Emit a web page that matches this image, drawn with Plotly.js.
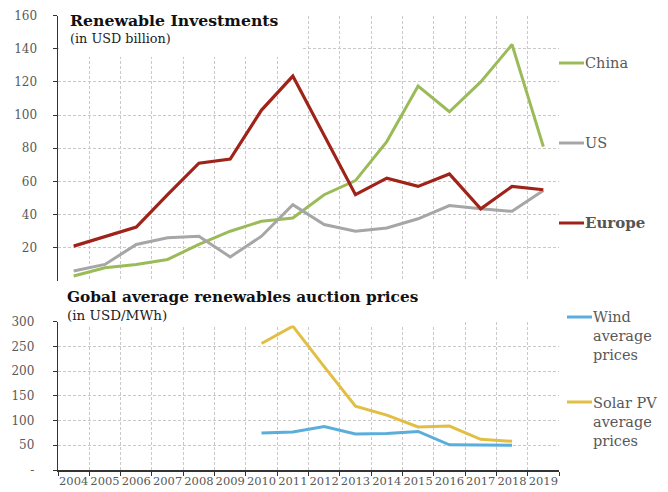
<!DOCTYPE html>
<html>
<head>
<meta charset="utf-8">
<script src="https://cdn.plot.ly/plotly-3.0.1.min.js"></script>
<style>html,body{margin:0;padding:0;background:#fff;}#chart{width:668px;height:492px;}</style>
</head>
<body>
<div id="chart"></div>
<script>
// ---- data ----
const years = ["2004","2005","2006","2007","2008","2009","2010","2011","2012","2013","2014","2015","2016","2017","2018","2019"];
const chinaValues  = [3, 8, 10, 13, 22, 30, 36, 38, 52, 60.5, 84, 117.5, 102, 120, 142.5, 81];
const usValues     = [6, 10, 22, 26, 27, 14.5, 27, 46, 34, 30, 32, 37.5, 45.5, 43.5, 42, 54.5];
const europeValues = [21, 27, 32.5, 52, 71, 73.5, 103, 123.5, 88, 52, 62, 57, 64.5, 43.5, 57, 55];
const auctionYears = ["2010","2011","2012","2013","2014","2015","2016","2017","2018"];
const windPrices   = [75, 77, 88, 73, 74, 78, 51, 50, 50];
const solarPrices  = [256, 291, 209, 129, 111, 87, 89, 62, 58];
const investTicks  = [20, 40, 60, 80, 100, 120, 140, 160];
const priceTicks   = [0, 50, 100, 150, 200, 250, 300];
const priceTickText = ["-", "50", "100", "150", "200", "250", "300"];
const seriesNames  = ["China", "US", "Europe"];
const auctionNames = ["Wind<br>average<br>prices", "Solar PV<br>average<br>prices"];
const title1 = "Renewable Investments", sub1 = "(in USD billion)";
const title2 = "Gobal average renewables auction prices", sub2 = "(in USD/MWh)";

// ---- style ----
const FONT = "'DejaVu Serif', Georgia, serif";
const TXT = "#595959";
const C = {china:"#9BBB59", us:"#A6A6A6", europe:"#A0231A", wind:"#5AAEDC", solar:"#E3BE45"};
const W = 668, H = 492, ML = 58, MR = 109, MT = 15, MB = 22;
const PW = W - ML - MR, PH = H - MT - MB;
const px = x => (x - ML) / PW;
const py = y => (H - MB - y) / PH;

const grid = {showgrid:true, gridcolor:"#c9c9c9", gridwidth:1, griddash:"3px,2px"};

const traces = [
  {x:years, y:chinaValues, name:seriesNames[0], type:"scatter", mode:"lines", line:{color:C.china, width:3}, xaxis:"x", yaxis:"y"},
  {x:years, y:usValues, name:seriesNames[1], type:"scatter", mode:"lines", line:{color:C.us, width:3}, xaxis:"x", yaxis:"y"},
  {x:years, y:europeValues, name:seriesNames[2], type:"scatter", mode:"lines", line:{color:C.europe, width:3.2}, xaxis:"x", yaxis:"y"},
  {x:auctionYears, y:windPrices, name:"Wind", type:"scatter", mode:"lines", line:{color:C.wind, width:3}, xaxis:"x2", yaxis:"y2"},
  {x:auctionYears, y:solarPrices, name:"Solar PV", type:"scatter", mode:"lines", line:{color:C.solar, width:3}, xaxis:"x2", yaxis:"y2"}
];

const topDomain = [py(281), py(15.5)];
const botDomain = [0, py(321.7)];

const layout = {
  width:W, height:H, margin:{l:ML, r:MR, t:MT, b:MB},
  paper_bgcolor:"#fff", plot_bgcolor:"#fff", showlegend:false,
  font:{family:FONT, color:TXT, size:12},
  xaxis:Object.assign({domain:[0,1], type:"category", categoryorder:"array", categoryarray:years,
    range:[-0.5, 15.5], tickson:"boundaries", showticklabels:false, ticks:"", showline:false, zeroline:false,
    anchor:"y"}, grid),
  yaxis:Object.assign({domain:topDomain, range:[0,160], tickvals:investTicks, ticks:"outside", ticklen:4,
    tickcolor:"#333", showline:true, linecolor:"#333", linewidth:1.5, zeroline:false, anchor:"x",
    ticksuffix:"\u00a0", ticklabelstandoff:13, tickfont:{family:FONT, color:TXT, size:12}}, grid),
  xaxis2:Object.assign({domain:[0,1], type:"category", categoryorder:"array", categoryarray:years,
    range:[-0.5, 15.5], tickson:"boundaries", ticks:"outside", ticklen:4, tickcolor:"#333", tickangle:0,
    showline:true, linecolor:"#333", linewidth:1.5, zeroline:false, anchor:"y2",
    tickfont:{family:FONT, color:TXT, size:11.5}}, grid),
  yaxis2:Object.assign({domain:botDomain, range:[0,300], tickvals:priceTicks, ticktext:priceTickText.map(t => t + "\u00a0"),
    ticks:"outside", ticklen:4, tickcolor:"#333", showline:true, linecolor:"#333", linewidth:1.5,
    zeroline:false, anchor:"x2", ticklabelstandoff:12, tickfont:{family:FONT, color:TXT, size:12}}, grid),
  shapes:[
    // white title boxes over the grid
    {type:"rect", xref:"paper", yref:"paper", layer:"above",
     x0:px(59), x1:px(303), y0:py(57), y1:py(5), fillcolor:"#fff", line:{width:0}},
    {type:"rect", xref:"paper", yref:"paper", layer:"above",
     x0:px(59), x1:px(453), y0:py(325.5), y1:py(285), fillcolor:"#fff", line:{width:0}},
    // legend swatches
    {type:"line", xref:"paper", yref:"paper", x0:px(559), x1:px(584), y0:py(63), y1:py(63), line:{color:C.china, width:3}},
    {type:"line", xref:"paper", yref:"paper", x0:px(559), x1:px(584), y0:py(143), y1:py(143), line:{color:C.us, width:3}},
    {type:"line", xref:"paper", yref:"paper", x0:px(559), x1:px(584), y0:py(223), y1:py(223), line:{color:C.europe, width:3}},
    {type:"line", xref:"paper", yref:"paper", x0:px(567), x1:px(592), y0:py(317), y1:py(317), line:{color:C.wind, width:3}},
    {type:"line", xref:"paper", yref:"paper", x0:px(567), x1:px(592), y0:py(402), y1:py(402), line:{color:C.solar, width:3}}
  ],
  annotations:[
    {text:"<b>"+title1+"</b>", xref:"paper", yref:"paper", x:px(68), y:py(21), xanchor:"left", yanchor:"middle",
     showarrow:false, font:{family:FONT, size:15.7, color:"#111"}},
    {text:sub1, xref:"paper", yref:"paper", x:px(68), y:py(38.5), xanchor:"left", yanchor:"middle",
     showarrow:false, font:{family:FONT, size:12.8, color:"#222"}},
    {text:"<b>"+title2+"</b>", xref:"paper", yref:"paper", x:px(65), y:py(297), xanchor:"left", yanchor:"middle",
     showarrow:false, font:{family:FONT, size:15.3, color:"#111"}},
    {text:sub2, xref:"paper", yref:"paper", x:px(65), y:py(315), xanchor:"left", yanchor:"middle",
     showarrow:false, font:{family:FONT, size:13.5, color:"#222"}},
    {text:seriesNames[0], xref:"paper", yref:"paper", x:px(583), y:py(63), xanchor:"left", yanchor:"middle",
     showarrow:false, font:{family:FONT, size:14.5, color:TXT}},
    {text:seriesNames[1], xref:"paper", yref:"paper", x:px(583), y:py(143), xanchor:"left", yanchor:"middle",
     showarrow:false, font:{family:FONT, size:14.5, color:TXT}},
    {text:"<b>"+seriesNames[2]+"</b>", xref:"paper", yref:"paper", x:px(583), y:py(223), xanchor:"left", yanchor:"middle",
     showarrow:false, font:{family:FONT, size:15, color:"#555"}},
    {text:auctionNames[0], xref:"paper", yref:"paper", x:px(591), y:py(307.5), xanchor:"left", yanchor:"top", align:"left",
     showarrow:false, font:{family:FONT, size:14.5, color:TXT}},
    {text:auctionNames[1], xref:"paper", yref:"paper", x:px(591), y:py(392.5), xanchor:"left", yanchor:"top", align:"left",
     showarrow:false, font:{family:FONT, size:14.5, color:TXT}}
  ]
};

Plotly.newPlot("chart", traces, layout, {displayModeBar:false, staticPlot:true});
</script>
</body>
</html>
